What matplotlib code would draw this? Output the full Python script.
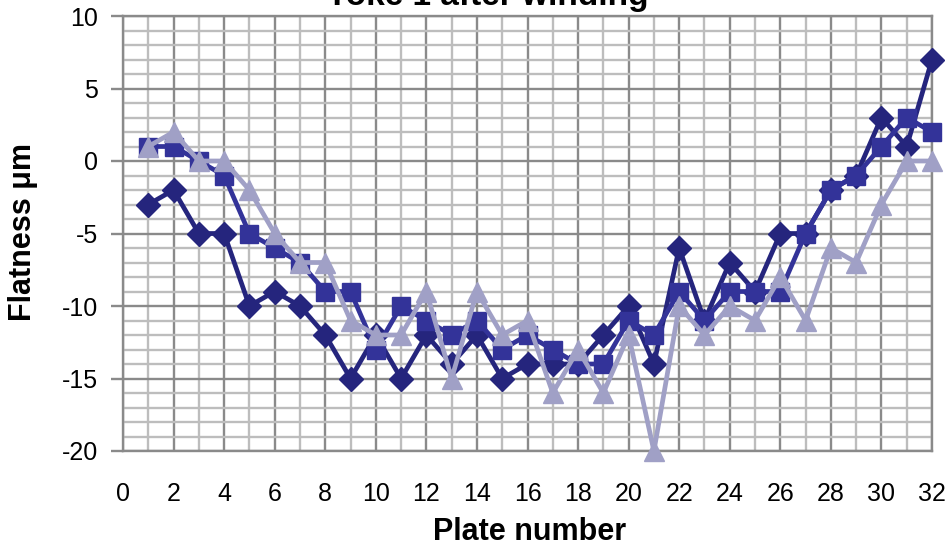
import matplotlib
matplotlib.use("Agg")
import matplotlib.pyplot as plt
from matplotlib.ticker import MultipleLocator

plt.rcParams['font.family'] = ['Liberation Sans', 'DejaVu Sans']
plt.rcParams['axes.unicode_minus'] = False

plates = list(range(1, 33))
series_a = [-3, -2, -5, -5, -10, -9, -10, -12, -15, -12, -15, -12, -14, -12, -15, -14,
            -14, -14, -12, -10, -14, -6, -11, -7, -9, -5, -5, -2, -1, 3, 1, 7]
series_b = [1, 1, 0, -1, -5, -6, -7, -9, -9, -13, -10, -11, -12, -11, -13, -12,
            -13, -14, -14, -11, -12, -9, -11, -9, -9, -9, -5, -2, -1, 1, 3, 2]
series_c = [1, 2, 0, 0, -2, -5, -7, -7, -11, -12, -12, -9, -15, -9, -12, -11,
            -16, -13, -16, -12, -20, -10, -12, -10, -11, -8, -11, -6, -7, -3, 0, 0]

title = "Yoke 1 after winding"
x_label = "Plate number"
y_label = "Flatness \u03bcm"

fig = plt.figure(figsize=(9.49, 5.48), dpi=100)
ax = fig.add_axes([123 / 949, 1 - 451 / 548, (932 - 123) / 949, (451 - 16) / 548])

ax.plot(plates, series_a, color="#25257d", lw=3.4, marker="D", ms=12.5,
        clip_on=False, zorder=3)
ax.plot(plates, series_b, color="#333399", lw=3.4, marker="s", ms=13.5,
        clip_on=False, zorder=4)
ax.plot(plates, series_c, color="#a0a0c6", lw=3.4, marker="^", ms=15,
        clip_on=False, zorder=5)

ax.set_xlim(0, 32)
ax.set_ylim(-20, 10)
ax.xaxis.set_major_locator(MultipleLocator(2))
ax.xaxis.set_minor_locator(MultipleLocator(1))
ax.yaxis.set_major_locator(MultipleLocator(5))
ax.yaxis.set_minor_locator(MultipleLocator(1))

ax.grid(which="major", color="#8a8a8a", lw=1.7, zorder=1)
ax.grid(which="minor", color="#bdbdbd", lw=1.7, zorder=0)
ax.set_axisbelow(True)
for s in ax.spines.values():
    s.set_color("#8a8a8a")
    s.set_linewidth(1.7)

ax.tick_params(axis="x", which="both", length=0, pad=22, labelsize=18)
ax.tick_params(axis="y", which="major", length=9, width=1.7, color="#8a8a8a",
               pad=9, labelsize=18)
ax.tick_params(axis="y", which="minor", length=0)

ax.set_xlabel(x_label, fontsize=22, fontweight="bold")
ax.set_ylabel(y_label, fontsize=22, fontweight="bold")
ax.xaxis.set_label_coords(0.502, -0.186)
ax.yaxis.set_label_coords(-0.124, 0.503)
ax.xaxis.label.set_va("center")
ax.yaxis.label.set_va("center")

fig.text(0.513, 1 - 5 / 548, title, ha="center", va="baseline",
         fontsize=24, fontweight="bold")

fig.savefig("out.png", dpi=100)
